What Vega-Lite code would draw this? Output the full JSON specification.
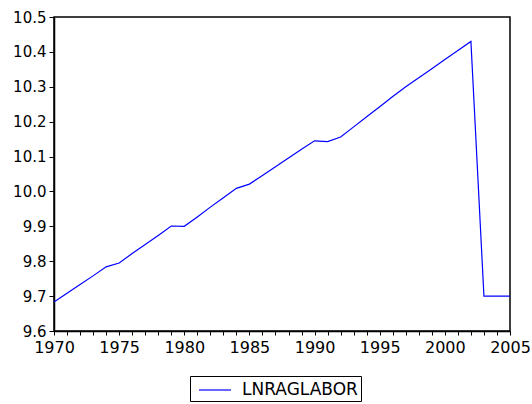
{
  "$schema": "https://vega.github.io/schema/vega-lite/v6.json",
  "autosize": "none",
  "width": 456,
  "height": 314,
  "padding": {"left": 54, "top": 17, "right": 22, "bottom": 73},
  "background": "white",
  "config": {
    "view": {"stroke": "black", "strokeWidth": 1.5},
    "font": "DejaVu Sans",
    "axis": {"domainColor": "black", "tickColor": "black", "labelColor": "black", "labelFont": "DejaVu Sans", "labelFontSize": 16, "grid": false, "domainWidth": 1.5, "tickWidth": 1}
  },
  "data": {"values": [
    {"year": 1970, "value": 9.683, "series": "LNRAGLABOR"},
    {"year": 1971, "value": 9.708, "series": "LNRAGLABOR"},
    {"year": 1972, "value": 9.733, "series": "LNRAGLABOR"},
    {"year": 1973, "value": 9.758, "series": "LNRAGLABOR"},
    {"year": 1974, "value": 9.784, "series": "LNRAGLABOR"},
    {"year": 1975, "value": 9.795, "series": "LNRAGLABOR"},
    {"year": 1976, "value": 9.822, "series": "LNRAGLABOR"},
    {"year": 1977, "value": 9.848, "series": "LNRAGLABOR"},
    {"year": 1978, "value": 9.874, "series": "LNRAGLABOR"},
    {"year": 1979, "value": 9.901, "series": "LNRAGLABOR"},
    {"year": 1980, "value": 9.900, "series": "LNRAGLABOR"},
    {"year": 1981, "value": 9.927, "series": "LNRAGLABOR"},
    {"year": 1982, "value": 9.955, "series": "LNRAGLABOR"},
    {"year": 1983, "value": 9.982, "series": "LNRAGLABOR"},
    {"year": 1984, "value": 10.009, "series": "LNRAGLABOR"},
    {"year": 1985, "value": 10.021, "series": "LNRAGLABOR"},
    {"year": 1986, "value": 10.046, "series": "LNRAGLABOR"},
    {"year": 1987, "value": 10.071, "series": "LNRAGLABOR"},
    {"year": 1988, "value": 10.096, "series": "LNRAGLABOR"},
    {"year": 1989, "value": 10.121, "series": "LNRAGLABOR"},
    {"year": 1990, "value": 10.145, "series": "LNRAGLABOR"},
    {"year": 1991, "value": 10.143, "series": "LNRAGLABOR"},
    {"year": 1992, "value": 10.156, "series": "LNRAGLABOR"},
    {"year": 1993, "value": 10.185, "series": "LNRAGLABOR"},
    {"year": 1994, "value": 10.214, "series": "LNRAGLABOR"},
    {"year": 1995, "value": 10.243, "series": "LNRAGLABOR"},
    {"year": 1996, "value": 10.272, "series": "LNRAGLABOR"},
    {"year": 1997, "value": 10.300, "series": "LNRAGLABOR"},
    {"year": 1998, "value": 10.326, "series": "LNRAGLABOR"},
    {"year": 1999, "value": 10.352, "series": "LNRAGLABOR"},
    {"year": 2000, "value": 10.378, "series": "LNRAGLABOR"},
    {"year": 2001, "value": 10.404, "series": "LNRAGLABOR"},
    {"year": 2002, "value": 10.430, "series": "LNRAGLABOR"},
    {"year": 2003, "value": 9.700, "series": "LNRAGLABOR"},
    {"year": 2004, "value": 9.700, "series": "LNRAGLABOR"},
    {"year": 2005, "value": 9.700, "series": "LNRAGLABOR"}
  ]},
  "mark": {"type": "line", "strokeWidth": 1.2},
  "encoding": {
    "x": {
      "field": "year", "type": "quantitative",
      "scale": {"domain": [1970, 2005], "nice": false, "zero": false},
      "axis": {
        "title": null,
        "values": [1970,1971,1972,1973,1974,1975,1976,1977,1978,1979,1980,1981,1982,1983,1984,1985,1986,1987,1988,1989,1990,1991,1992,1993,1994,1995,1996,1997,1998,1999,2000,2001,2002,2003,2004,2005],
        "labelExpr": "datum.value % 5 == 0 ? datum.value : ''",
        "labelOverlap": false,
        "labelFlush": false,
        "tickSize": 4,
        "labelPadding": 4
      }
    },
    "y": {
      "field": "value", "type": "quantitative",
      "scale": {"domain": [9.6, 10.5], "nice": false, "zero": false},
      "axis": {
        "title": null,
        "values": [9.6, 9.7, 9.8, 9.9, 10.0, 10.1, 10.2, 10.3, 10.4, 10.5],
        "format": ".1f",
        "labelFontSize": 15,
        "tickSize": 5,
        "labelPadding": 3
      }
    },
    "color": {
      "field": "series", "type": "nominal",
      "scale": {"range": ["#0000ff"]},
      "legend": {
        "title": null,
        "orient": "none",
        "legendX": 136,
        "legendY": 359,
        "strokeColor": "black",
        "padding": 3,
        "symbolType": "M-0.5,0H2.7",
        "symbolSize": 400,
        "symbolStrokeWidth": 1.2,
        "labelOffset": 27,
        "labelFont": "DejaVu Sans",
        "labelFontSize": 17,
        "labelColor": "black"
      }
    }
  }
}
